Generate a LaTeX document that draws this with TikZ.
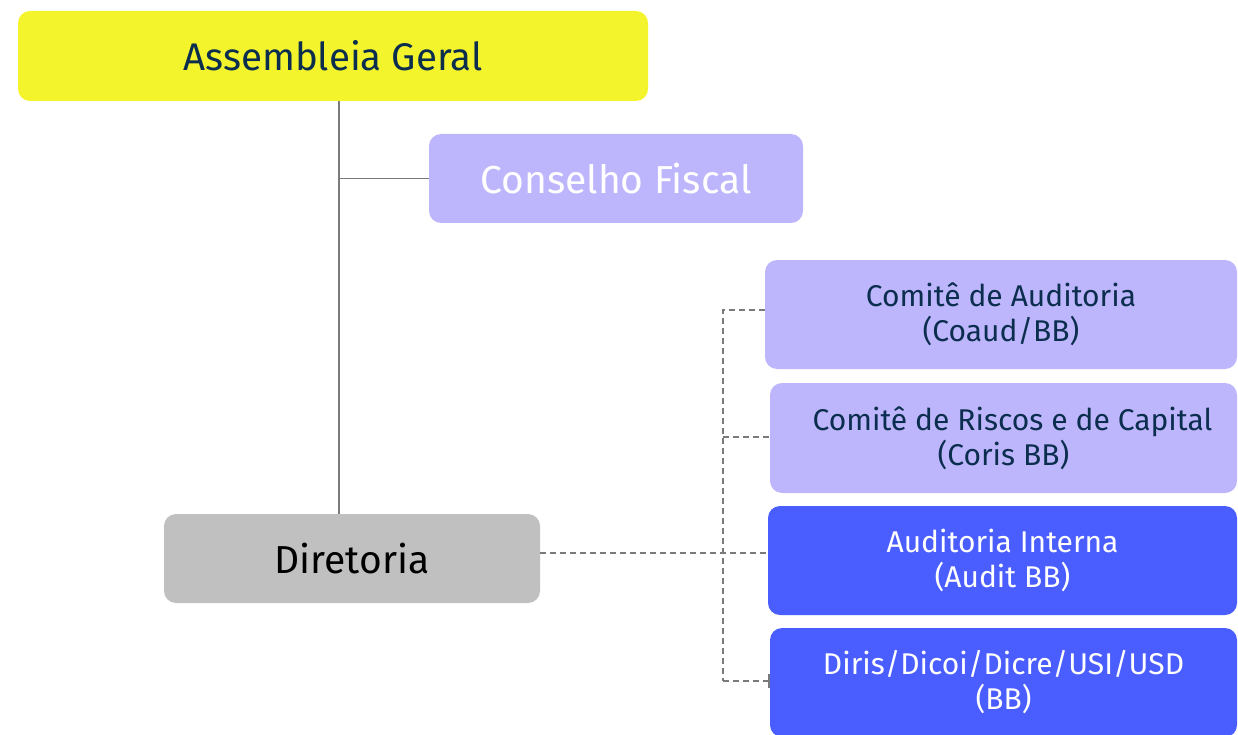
\documentclass[tikz,border=0pt]{standalone}
\usepackage{fontspec}
\setmainfont{Fira Sans}
\usetikzlibrary{arrows.meta}
\definecolor{agyellow}{HTML}{F4F42C}
\definecolor{lav}{HTML}{BEB6FC}
\definecolor{bbblue}{HTML}{4A5DFF}
\definecolor{dirgray}{HTML}{C0C0C0}
\definecolor{navy}{HTML}{0B2D4E}
\definecolor{linegray}{HTML}{7A7A7A}
\tikzset{
  box/.style={rounded corners=12pt, inner sep=0pt, align=center},
  bigtxt/.style={font=\fontsize{38.5}{44}\selectfont},
  midtxt/.style={font=\fontsize{39}{44}\selectfont},
  smalltxt/.style={font=\fontsize{30}{35}\selectfont},
  solidline/.style={draw=linegray, line width=1.4pt},
  dashline/.style={draw=linegray, line width=1.3pt, dash pattern=on 6pt off 4pt},
}
\begin{document}
\begin{tikzpicture}[x=1pt,y=-1pt]
\useasboundingbox (0,0) rectangle (1238,735);
\node[box, fill=agyellow, text=navy, bigtxt, minimum width=630pt, minimum height=90pt] (ag) at (333,56) {Assembleia Geral};
\node[box, fill=lav, text=white, midtxt, minimum width=374pt, minimum height=89pt] (cf) at (616,178.5) {Conselho Fiscal};
\node[box, fill=dirgray, text=black, midtxt, minimum width=376pt, minimum height=89pt] (dir) at (352,558.5) {Diretoria};
\node[box, fill=lav, text=navy, smalltxt, minimum width=472pt, minimum height=109pt] (coaud) at (1001,314.5) {Comitê de Auditoria\\(Coaud/BB)};
\node[box, fill=lav, text=navy, smalltxt, minimum width=467pt, minimum height=110pt] (coris) at (1003.5,438) {\hspace*{18pt}Comitê de Riscos e de Capital\\(Coris BB)};
\node[box, fill=bbblue, text=white, smalltxt, minimum width=469pt, minimum height=109pt] (audit) at (1002.5,560.5) {Auditoria Interna\\(Audit BB)};
\node[box, fill=bbblue, text=white, smalltxt, minimum width=467pt, minimum height=109pt] (diris) at (1003.5,682.5) {Diris/Dicoi/Dicre/USI/USD\\(BB)};
\coordinate (trunk) at (339,0);
\coordinate (bus) at (723,553);
\coordinate (bustop) at (723,310);
\coordinate (busmid) at (723,437);
\coordinate (busbot) at (723,681);
\draw[solidline] (trunk |- ag.south) -- (trunk |- dir.north);
\draw[solidline] (trunk |- cf.west) -- (cf.west);
\draw[dashline] (dir.east |- bus) -- (audit.west |- bus);
\draw[dashline] (coaud.west |- bustop) -- (bustop) -- (busbot);
\draw[dashline] (busmid) -- (coris.west |- busmid);
\draw[dashline, -{Bar[width=14pt,line width=1.6pt]}] (busbot) -- (diris.west |- busbot);
\end{tikzpicture}
\end{document}
